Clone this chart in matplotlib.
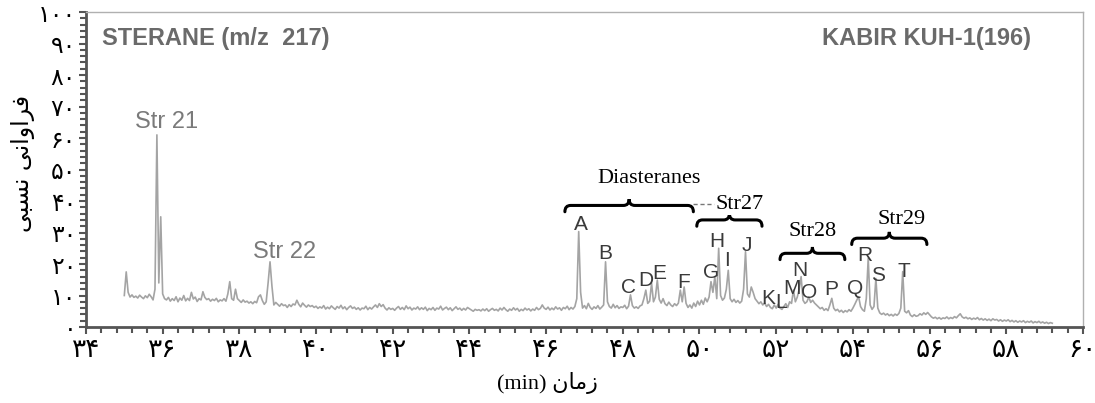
import numpy as np
import matplotlib
matplotlib.use("Agg")
import matplotlib.pyplot as plt
from matplotlib.path import Path
from matplotlib.patches import PathPatch
from matplotlib.ticker import MultipleLocator, FuncFormatter

# --- Chromatogram (m/z 217), one row per minute, sampled every 0.05 min ---
T_START = 35.0
T_STEP = 0.05
abundance = [
    10.0, 17.5, 11.0, 9.5, 10.2, 9.4, 9.8, 9.2, 10.1, 9.5, 9.0, 9.9, 9.3, 10.4, 9.6, 8.6, 12.0, 61.0, 14.0, 35.0,   # 35
    10.5, 9.0, 8.6, 9.4, 8.2, 9.0, 8.4, 9.6, 8.0, 9.2, 8.5, 10.0, 8.3, 9.1, 8.4, 11.0, 8.9, 9.5, 8.1, 9.0,        # 36
    8.6, 11.2, 9.4, 8.7, 9.0, 8.2, 8.8, 8.4, 9.1, 8.0, 8.6, 8.3, 9.0, 8.2, 10.5, 14.4, 9.0, 8.5, 12.0, 9.0,       # 37
    8.4, 7.8, 8.6, 7.9, 8.2, 7.6, 8.0, 7.4, 8.1, 7.7, 9.6, 10.2, 8.4, 7.2, 8.0, 14.0, 20.7, 13.0, 7.0, 7.8,       # 38
    7.2, 6.6, 7.4, 6.8, 7.0, 6.2, 7.1, 6.5, 7.3, 7.0, 8.5, 7.2, 6.4, 7.6, 6.9, 6.3, 7.0, 6.5, 6.8, 6.2,           # 39
    6.6, 5.9, 6.4, 6.0, 6.8, 5.7, 6.3, 5.8, 6.7, 6.1, 5.6, 6.5, 6.0, 6.9, 5.8, 6.4, 5.5, 6.2, 6.7, 5.9,           # 40
    6.3, 5.6, 6.1, 5.4, 6.0, 5.8, 6.6, 5.5, 6.2, 5.7, 6.4, 7.0, 6.2, 7.4, 6.5, 7.1, 6.0, 5.4, 6.1, 5.6,           # 41
    5.9, 5.3, 6.0, 6.5, 5.6, 6.2, 5.5, 6.7, 5.8, 6.3, 5.4, 6.0, 5.7, 6.4, 5.5, 6.1, 5.6, 6.3, 5.2, 5.9,           # 42
    5.5, 6.2, 5.3, 6.0, 5.7, 6.6, 5.4, 5.9, 6.3, 5.5, 6.1, 5.2, 5.8, 6.4, 5.6, 6.0, 5.3, 5.9, 5.4, 6.2,           # 43
    5.8, 5.4, 5.0, 5.6, 5.3, 5.5, 5.1, 5.7, 5.2, 5.8, 5.0, 5.5, 5.9, 5.3, 5.6, 5.1, 6.0, 5.4, 6.2, 5.5,           # 44
    5.0, 5.7, 5.3, 6.1, 5.4, 5.9, 5.0, 5.6, 5.2, 6.0, 5.4, 5.8, 5.1, 5.7, 5.3, 6.2, 5.5, 5.9, 7.0, 6.0,           # 45
    5.6, 6.3, 5.4, 6.0, 5.5, 6.4, 5.7, 6.1, 5.3, 6.2, 5.8, 6.6, 5.5, 6.2, 5.7, 6.5, 9.0, 30.3, 11.0, 6.0,         # 46
    6.8, 5.8, 7.5, 6.2, 5.6, 6.4, 5.9, 6.8, 5.7, 6.3, 7.0, 20.7, 8.0, 6.5, 6.0, 7.2, 6.1, 6.8, 5.9, 6.4,          # 47
    6.2, 6.9, 5.8, 6.6, 10.2, 6.8, 6.0, 6.4, 5.9, 6.7, 7.0, 9.0, 11.7, 7.5, 8.2, 13.9, 8.0, 9.5, 14.9, 8.8,       # 48
    7.6, 9.0, 7.4, 6.8, 7.9, 7.0, 6.5, 7.4, 6.8, 7.6, 11.7, 8.0, 12.7, 7.5, 6.2, 7.0, 6.0, 7.6, 6.5, 8.2,         # 49
    7.0, 8.5, 7.2, 9.2, 8.0, 9.5, 14.4, 11.0, 16.0, 9.0, 25.0, 10.0, 8.5, 9.2, 12.0, 18.0, 9.0, 8.0, 8.8, 7.8,    # 50
    8.4, 7.6, 8.2, 12.0, 23.9, 10.5, 9.5, 12.7, 11.0, 9.0, 8.2, 7.4, 8.0, 7.0, 7.6, 6.5, 7.2, 6.2, 5.8, 7.0,      # 51
    6.0, 7.2, 6.0, 5.6, 6.5, 7.4, 6.2, 8.0, 7.5, 11.7, 8.0, 9.5, 12.0, 16.0, 8.5, 7.5, 8.0, 9.5, 7.8, 8.5,        # 52
    7.6, 7.0, 6.4, 5.8, 6.2, 5.3, 5.8, 5.2, 7.0, 9.1, 6.0, 5.2, 5.6, 4.8, 5.3, 4.6, 5.2, 4.8, 5.5, 5.0,           # 53
    6.0, 7.2, 8.5, 9.6, 6.5, 5.5, 5.0, 9.0, 21.8, 7.0, 5.6, 6.5, 15.4, 6.0, 4.5, 4.0, 4.4, 3.8, 4.2, 3.6,         # 54
    4.0, 3.5, 4.1, 3.7, 4.3, 6.0, 17.6, 5.0, 4.5, 5.2, 3.8, 3.3, 3.9, 3.4, 3.6, 4.2, 3.8, 4.5, 4.0, 4.6,          # 55
    3.9, 3.2, 2.8, 3.1, 2.6, 3.0, 2.5, 2.9, 2.7, 3.2, 2.6, 3.0, 2.7, 3.3, 2.9, 3.6, 4.2, 3.2, 2.8, 3.1,           # 56
    2.6, 2.9, 2.4, 2.8, 2.5, 3.0, 2.3, 2.7, 2.2, 2.6, 2.1, 2.5, 2.0, 2.6, 2.2, 2.4, 1.9, 2.3, 1.8, 2.2,           # 57
    1.9, 2.3, 1.7, 2.1, 1.6, 2.0, 1.5, 1.9, 1.6, 2.0, 1.4, 1.8, 1.5, 1.9, 1.3, 1.7, 1.4, 1.8, 1.3, 1.6,           # 58
    1.2, 1.5, 1.1, 1.4, 1.2,                                                                                     # 59
]
t = T_START + T_STEP * np.arange(len(abundance))

# --- Peak labels ---
peak_names = list("ABCDEFGHIJKLMNOPQRST")
peak_x = [46.90, 47.55, 48.15, 48.60, 48.95, 49.59, 50.31, 50.46, 50.73, 51.23,
          51.78, 52.12, 52.42, 52.62, 52.86, 53.44, 54.07, 54.32, 54.66, 55.33]
peak_y = [32.6, 23.4, 12.6, 14.9, 17.0, 14.0, 17.2, 27.0, 21.0, 26.0,
          8.9, 7.8, 12.3, 17.8, 10.8, 12.0, 12.2, 22.6, 16.2, 17.7]

# --- Compound groups (brace start, end, level; label position) ---
group_names = ["Diasteranes", "Str27", "Str28", "Str29"]
group_x0 = [46.49, 49.93, 52.10, 53.97]
group_x1 = [49.84, 51.63, 53.79, 55.93]
group_level = [38.6, 34.0, 23.4, 28.2]
group_text_x = [48.68, 51.05, 52.96, 55.28]
group_text_y = [47.3, 38.8, 30.3, 34.2]

# --- Main compound labels ---
main_names = ["Str 21", "Str 22"]
main_x = [36.10, 39.19]
main_y = [65.0, 23.9]

PERSIAN = str.maketrans("0123456789", "۰۱۲۳۴۵۶۷۸۹")


def fa_digits(v, pos):
    return f"{v:.0f}".translate(PERSIAN)


def brace(ax, x0, x1, y, dx=0.15, h=2.0, lw=2.2):
    xm = (x0 + x1) / 2
    verts = [(x0, y - h), (x0, y), (x0 + dx, y),
             (xm - dx, y), (xm, y), (xm, y + h),
             (xm, y), (xm + dx, y),
             (x1 - dx, y), (x1, y), (x1, y - h)]
    codes = [Path.MOVETO, Path.CURVE3, Path.CURVE3,
             Path.LINETO, Path.CURVE3, Path.CURVE3,
             Path.CURVE3, Path.CURVE3,
             Path.LINETO, Path.CURVE3, Path.CURVE3]
    ax.add_patch(PathPatch(Path(verts, codes), fill=False, lw=lw,
                           edgecolor="black", capstyle="round"))


fig = plt.figure(figsize=(10.95, 4.03), dpi=100)
ax = fig.add_axes([0.0785, 0.1886, 0.9105, 0.7814])

ax.plot(t, abundance, color="#a4a4a4", lw=1.2)

ax.set_xlim(34, 60)
ax.set_ylim(0, 100)

ax.xaxis.set_major_locator(MultipleLocator(2))
ax.xaxis.set_minor_locator(MultipleLocator(0.4))
ax.yaxis.set_major_locator(MultipleLocator(10))
ax.yaxis.set_minor_locator(MultipleLocator(2))
ax.xaxis.set_major_formatter(FuncFormatter(fa_digits))
ax.yaxis.set_major_formatter(FuncFormatter(fa_digits))

ax.tick_params(axis="both", which="both", direction="out", color="#555555", width=1.5)
ax.tick_params(axis="both", which="major", length=5)
ax.tick_params(axis="both", which="minor", length=4)
ax.tick_params(axis="x", which="major", labelsize=19, pad=2)
ax.tick_params(axis="y", which="major", labelsize=17, pad=2)
for lab in ax.get_xticklabels() + ax.get_yticklabels():
    lab.set_family("DejaVu Sans")

for side in ("left", "bottom"):
    ax.spines[side].set_color("#555555")
    ax.spines[side].set_linewidth(2)
for side in ("top", "right"):
    ax.spines[side].set_color("#b0b0b0")
    ax.spines[side].set_linewidth(1)

# header texts
ax.text(0.016, 0.915, "STERANE (m/z  217)", transform=ax.transAxes,
        family="Liberation Sans", fontsize=17, fontweight="bold", color="#6a6a6a",
        ha="left", va="center")
ax.text(0.948, 0.915, "KABIR KUH-1(196)", transform=ax.transAxes,
        family="Liberation Sans", fontsize=17, fontweight="bold", color="#6a6a6a",
        ha="right", va="center")

for name, x, y in zip(main_names, main_x, main_y):
    ax.text(x, y, name, family="Liberation Sans", fontsize=17, color="#7a7a7a",
            ha="center", va="center")

for name, x, y in zip(peak_names, peak_x, peak_y):
    ax.text(x, y, name, family="Liberation Sans", fontsize=15, color="#3a3a3a",
            ha="center", va="center")

for x0, x1, lv in zip(group_x0, group_x1, group_level):
    brace(ax, x0, x1, lv)

for i, (name, x, y) in enumerate(zip(group_names, group_text_x, group_text_y)):
    box = None if i == 0 else dict(facecolor="white", edgecolor="none", pad=0.5)
    ax.text(x, y, name, family="Liberation Serif", fontsize=16, color="black",
            ha="center", va="center", bbox=box)

# dashed connector between the Diasteranes brace and Str27
ax.plot([group_x1[0], group_x1[0] + 0.55], [group_level[0] + 0.6, group_level[0] + 0.6],
        ls=(0, (3, 2)), color="#777777", lw=1)

# Persian axis titles (presentation forms, visual order)
ylabel = "\uFEF0\uFE92\uFEB4\uFEE7 \uFEF0\uFEE7\uFE8D\uFEED\uFE8D\uFEAE\uFED3"
xlabel = "(min) \uFEE5\uFE8E\uFEE3\uFEAF"
fig.text(0.021, 0.595, ylabel, rotation=90, family="DejaVu Sans", fontsize=17,
         ha="center", va="center")
fig.text(0.50, 0.05, xlabel, family=["Liberation Serif", "DejaVu Sans"], fontsize=16,
         ha="center", va="center")

fig.savefig("out.png", dpi=100)
